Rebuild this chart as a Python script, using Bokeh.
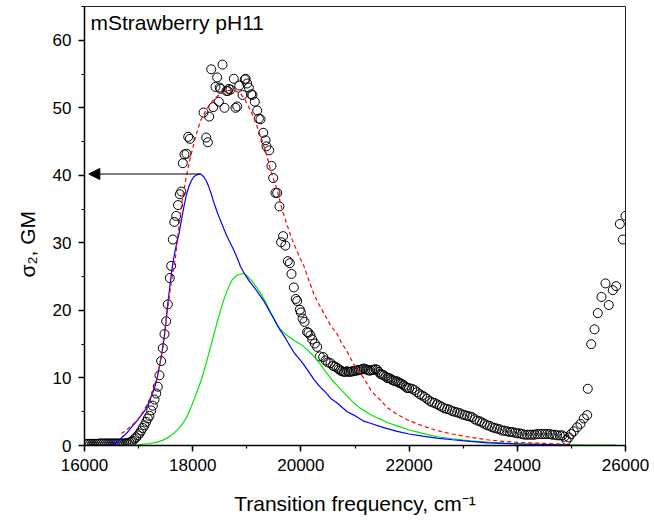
from bokeh.plotting import figure
from bokeh.models import Range1d, SingleIntervalTicker, Label, Arrow, NormalHead, Title
from bokeh.embed import file_html
from bokeh.resources import INLINE

# ---------------- data ----------------
exp_x = [16000, 16035, 16070, 16105, 16140, 16175, 16210, 16245, 16280, 16315, 16350, 16385,
         16420, 16455, 16490, 16525, 16560, 16595, 16630, 16665, 16700, 16735, 16770, 16800,
         16832, 16863, 16893, 16924, 16955, 16986, 17017, 17048, 17078, 17109, 17140, 17170,
         17201, 17232, 17263, 17294, 17325, 17355, 17386, 17417, 17448, 17479, 17510, 17540,
         17577, 17602, 17633, 17660, 17695, 17728, 17762, 17790, 17817, 17848, 17885, 17917,
         17947,
         18200, 18250, 18280, 18305, 18342, 18379, 18421, 18452, 18482, 18500, 18514, 18551,
         18588, 18625, 18650, 18667, 18699, 18760, 18791, 18823, 18860, 18921, 18963, 18979,
         19007, 19037, 19081, 19105, 19148, 19192, 19222, 19253, 19303, 19346, 19364, 19414,
         19456, 19488, 19530, 19562, 19603, 19634, 19671, 19713, 19758, 19795, 19826, 19869,
         19905, 19931, 19980, 20000, 20030, 20067, 20115, 20140, 20177, 20209, 20257, 20301,
         20349, 20412, 20455, 20500, 20547, 20595, 20630, 20669, 20700, 20730, 20760, 20793,
         20825, 20855, 20885, 20917, 20947, 20978, 21010, 21041, 21070, 21100, 21130, 21163,
         21195, 21225, 21255, 21285, 21315, 21347, 21380, 21410, 21440, 21470, 21500, 21532,
         21565, 21595, 21625, 21656, 21685, 21717, 21750, 21780, 21810, 21841, 21870, 21903,
         21935, 21965, 22000, 22055, 22100, 22147, 22195, 22240, 22285, 22332, 22380, 22425,
         22470, 22517, 22565, 22610, 22655, 22702, 22750, 22795, 22840, 22887, 22935, 22980,
         23025, 23072, 23120, 23165, 23210, 23257, 23305, 23350, 23395, 23442, 23490, 23535,
         23580, 23627, 23675, 23720, 23765, 23812, 23860, 23905, 23950, 23997, 24045, 24090,
         24135, 24182, 24230, 24275, 24320, 24367, 24415, 24460, 24505, 24552, 24600, 24645,
         24690, 24737, 24785, 24830, 24870, 24909, 24952, 24996, 25044, 25107, 25168, 25230,
         25292, 25303, 25366, 25427, 25488, 25556, 25630, 25691, 25765, 25828, 25895, 25950,
         26000]
exp_y = [0.25, 0.25, 0.25, 0.25, 0.25, 0.25, 0.25, 0.25, 0.3, 0.3, 0.3, 0.3,
         0.3, 0.3, 0.3, 0.3, 0.3, 0.3, 0.3, 0.3, 0.3, 0.3, 0.35, 0.35,
         0.45, 0.55, 0.7, 1.0, 1.2, 1.5, 1.8, 2.2, 2.6, 3.0, 3.5, 4.0,
         4.4, 5.2, 5.9, 6.8, 7.7, 8.7, 10.4, 12.5, 14.4, 16.5, 18.4, 20.9,
         24.8, 26.6, 30.5, 33.1, 34.0, 35.6, 37.2, 37.6, 41.8, 43.1, 43.2, 45.7,
         45.4,
         49.3, 45.6, 44.9, 48.7, 55.7, 50.1, 53.1, 54.5, 50.9, 53.0, 52.8, 56.4,
         50.0, 52.5, 52.5, 52.8, 52.7, 54.3, 50.0, 50.2, 53.3, 51.9, 54.2, 54.3,
         53.6, 53.0, 52.0, 51.9, 50.9, 49.6, 48.4, 48.3, 46.3, 45.2, 44.3, 43.7,
         41.4, 39.6, 37.4, 37.4, 35.4, 30.1, 31.0, 29.6, 27.3, 27.0, 25.4, 23.4,
         21.7, 21.4, 20.1, 19.7, 18.8, 18.3, 16.8, 16.7, 16.3, 15.7, 15.1, 14.6,
         13.2, 13.1, 12.6, 12.3, 12.2, 11.8, 11.7, 11.5, 11.3, 11.1, 11.0, 10.9,
         10.9, 11.0, 10.9, 10.9, 11.0, 11.0, 11.1, 11.1, 11.2, 11.2, 11.3, 11.4,
         11.3, 11.2, 11.1, 11.1, 11.2, 11.2, 11.3, 11.2, 10.9, 10.6, 10.5, 10.4,
         10.2, 10.0, 10.0, 9.9, 9.7, 9.6, 9.5, 9.5, 9.3, 9.2, 9.1, 8.9,
         8.7, 8.5, 8.5, 8.4, 8.2, 7.9, 7.6, 7.4, 7.2, 6.9, 6.6, 6.4,
         6.3, 6.1, 5.9, 5.7, 5.5, 5.4, 5.3, 5.1, 5.0, 4.9, 4.8, 4.6,
         4.5, 4.4, 4.3, 4.2, 3.9, 3.7, 3.6, 3.4, 3.2, 3.0, 2.9, 2.7,
         2.6, 2.5, 2.4, 2.2, 2.2, 2.1, 2.0, 2.0, 1.9, 1.8, 1.8, 1.7,
         1.6, 1.6, 1.6, 1.6, 1.6, 1.7, 1.7, 1.7, 1.7, 1.7, 1.7, 1.6,
         1.6, 1.5, 1.5, 1.5, 1.3, 0.8, 1.2, 1.7, 2.1, 2.7, 3.2, 4.0,
         4.5, 8.4, 15.0, 17.2, 19.6, 22.0, 24.0, 20.8, 23.0, 23.6, 32.8, 30.5,
         34.0]

blue_x = [16300, 16450, 16550, 16616, 16678, 16750, 16800, 16900, 16985, 17050, 17109, 17170,
          17232, 17290, 17343, 17380, 17417, 17450, 17479, 17510, 17540, 17577, 17613, 17650,
          17700, 17743, 17790, 17836, 17880, 17928, 17975, 18020, 18080, 18145, 18205, 18250,
          18298, 18345, 18390, 18450, 18514, 18575, 18638, 18700, 18760, 18820, 18884, 18930,
          18976, 19050, 19130, 19220, 19314, 19377, 19425, 19500, 19560, 19623, 19684, 19750,
          19808, 19870, 19930, 19993, 20060, 20120, 20180, 20240, 20301, 20362, 20430, 20500,
          20547, 20670, 20855, 20978, 21163, 21285, 21470, 21595, 21780, 22000, 22250, 22517,
          22800, 23134, 23450, 23750, 24100, 24500, 24980]
blue_y = [0.0, 0.1, 0.3, 0.5, 1.1, 1.6, 2.0, 3.0, 3.8, 4.5, 5.1, 6.0,
          7.2, 8.4, 10.0, 11.5, 13.1, 14.8, 16.5, 18.6, 21.0, 23.5, 25.9, 27.8,
          29.8, 31.2, 33.3, 35.3, 37.0, 38.3, 39.2, 39.8, 40.1, 40.2, 39.8, 39.2,
          38.3, 37.2, 36.0, 34.6, 33.3, 32.1, 30.9, 29.9, 28.9, 27.8, 26.5, 25.8,
          25.2, 24.3, 23.5, 22.5, 21.4, 20.5, 19.8, 18.8, 17.9, 17.0, 16.3, 15.4,
          14.6, 13.8, 13.2, 12.6, 11.9, 11.2, 10.5, 9.8, 9.2, 8.6, 8.1, 7.5,
          7.0, 6.3, 5.0, 4.5, 3.6, 3.3, 2.8, 2.5, 2.1, 1.7, 1.4, 1.1,
          0.85, 0.6, 0.4, 0.3, 0.2, 0.15, 0.1]

green_x = [16800, 17000, 17200, 17343, 17450, 17550, 17651, 17750, 17820, 17897, 17960, 18030,
           18090, 18145, 18200, 18260, 18320, 18390, 18450, 18510, 18560, 18606, 18660, 18720,
           18760, 18823, 18900, 18945, 18976, 19020, 19068, 19130, 19190, 19253, 19320, 19380,
           19425, 19500, 19560, 19623, 19700, 19746, 19800, 19869, 19930, 19993, 20060, 20116,
           20180, 20240, 20300, 20362, 20430, 20500, 20547, 20609, 20670, 20750, 20855, 20978,
           21100, 21163, 21285, 21400, 21470, 21595, 21780, 22000, 22250, 22517, 22800, 23134,
           23450, 23750, 24100, 24675, 25200, 25815]
green_y = [0.0, 0.1, 0.3, 0.5, 0.8, 1.2, 1.8, 2.6, 3.3, 4.3, 5.5, 6.9,
           8.2, 9.4, 10.8, 12.5, 14.3, 16.4, 18.2, 19.9, 21.2, 22.3, 23.4, 24.4,
           24.8, 25.2, 25.4, 25.4, 25.3, 25.0, 24.6, 24.0, 23.3, 22.6, 21.6, 20.7,
           20.0, 18.7, 17.8, 17.2, 16.6, 16.3, 16.0, 15.6, 15.3, 15.0, 14.6, 14.2,
           13.7, 13.2, 12.6, 12.0, 11.2, 10.5, 10.0, 9.4, 8.9, 8.2, 7.3, 6.3,
           5.5, 5.2, 4.6, 4.1, 3.9, 3.4, 2.9, 2.3, 1.8, 1.3, 1.0, 0.7,
           0.5, 0.35, 0.25, 0.15, 0.1, 0.05]

fit_x = [16680, 16750, 16850, 16973, 17100, 17232, 17343, 17450, 17540, 17610, 17682, 17740,
         17805, 17880, 17959, 18050, 18145, 18240, 18330, 18420, 18514, 18600, 18699, 18790,
         18884, 18960, 19037, 19110, 19192, 19280, 19377, 19438, 19500, 19562, 19650, 19746,
         19820, 19900, 19980, 20054, 20150, 20240, 20300, 20362, 20450, 20547, 20670, 20750,
         20855, 20978, 21080, 21163, 21285, 21380, 21470, 21595, 21780, 21995, 22250, 22517,
         22800, 23134, 23450, 23750, 24050, 24367, 24700, 24980]
fit_y = [1.8, 2.1, 2.8, 3.7, 5.2, 7.3, 10.0, 14.6, 20.5, 24.5, 27.9, 32.0,
         36.3, 39.8, 42.7, 45.6, 48.1, 49.6, 50.6, 51.5, 52.1, 52.5, 52.6, 52.5,
         52.1, 51.3, 50.1, 48.9, 47.2, 45.2, 42.7, 40.8, 39.3, 37.8, 35.0, 32.6,
         30.9, 29.3, 27.8, 26.6, 24.4, 22.4, 21.4, 20.5, 19.2, 17.8, 16.5, 15.2,
         13.9, 12.0, 10.8, 10.0, 8.3, 7.4, 6.7, 5.6, 4.6, 3.7, 2.9, 2.2,
         1.7, 1.2, 0.85, 0.6, 0.45, 0.35, 0.25, 0.15]

x_ticks_interval = 2000
y_ticks_interval = 10
arrow_target_x = 16080
title_text = "mStrawberry pH11"
x_label = "Transition frequency, cm\u207b\u00b9"
y_label = "\u03c3\u2082, GM"

FONT = "Liberation Sans"

# ---------------- figure ----------------
p = figure(width=654, height=523, x_range=Range1d(16000, 26000), y_range=Range1d(0, 65),
           output_backend="svg", toolbar_location=None,
           min_border_left=84, min_border_right=29, min_border_top=6, min_border_bottom=78)
p.background_fill_color = "white"
p.border_fill_color = "white"
p.xgrid.visible = False
p.ygrid.visible = False
p.outline_line_color = "#222222"
p.outline_line_width = 1

for ax in (p.xaxis[0], p.yaxis[0]):
    ax.axis_line_color = "black"
    ax.axis_line_width = 1.5
    ax.major_tick_line_color = "black"
    ax.major_tick_line_width = 1.5
    ax.minor_tick_line_color = "black"
    ax.minor_tick_line_width = 1.2
    ax.major_tick_in = 0
    ax.major_tick_out = 6
    ax.minor_tick_in = 0
    ax.minor_tick_out = 3
    ax.major_label_text_font = FONT
    ax.major_label_text_font_size = "17px"
    ax.major_label_text_color = "black"
    ax.major_label_standoff = 7

p.xaxis.ticker = SingleIntervalTicker(interval=x_ticks_interval, num_minor_ticks=2)
p.yaxis.ticker = SingleIntervalTicker(interval=y_ticks_interval, num_minor_ticks=2)

p.xaxis.axis_label = x_label
p.xaxis.axis_label_text_font = FONT
p.xaxis.axis_label_text_font_size = "21px"
p.xaxis.axis_label_text_font_style = "normal"
p.xaxis.axis_label_text_color = "black"
p.xaxis.axis_label_standoff = 18

# y-axis label as a side title (allows an offset along the axis)
p.add_layout(Title(text=y_label, align="left", offset=168, standoff=21,
                   text_font=FONT, text_font_size="21px", text_font_style="normal",
                   text_color="black"), "left")

# experimental points
p.scatter(exp_x, exp_y, marker="circle", size=9, fill_color=None,
          line_color="black", line_width=1)

# model curves
p.line(green_x, green_y, line_color="#00e600", line_width=1.2)
p.line(blue_x, blue_y, line_color="#0000ff", line_width=1.2)
p.line(fit_x, fit_y, line_color="#ff0000", line_width=1.2, line_dash="4 3")

# arrow from blue peak to the axis
peak_i = max(range(len(blue_y)), key=lambda i: blue_y[i])
p.add_layout(Arrow(end=NormalHead(size=11, fill_color="black", line_color="black", line_width=1),
                   x_start=blue_x[peak_i], y_start=blue_y[peak_i],
                   x_end=arrow_target_x, y_end=blue_y[peak_i],
                   line_color="black", line_width=1.2))

# title inside the plot
p.add_layout(Label(x=16111, y=64.4, text=title_text, text_font=FONT,
                   text_font_size="21px", text_color="black",
                   text_align="left", text_baseline="top"))

open("out.html", "w").write(file_html(p, INLINE))
